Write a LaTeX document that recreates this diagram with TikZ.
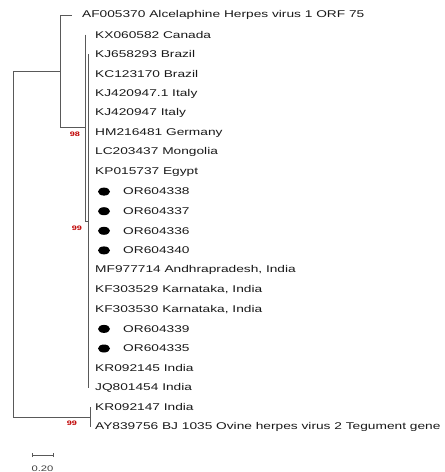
\documentclass[tikz,border=0pt]{standalone}
\usepackage{fontspec}
\setmainfont[FakeStretch=1.4]{Liberation Sans}
\usetikzlibrary{shapes.geometric}
\begin{document}
\begin{tikzpicture}[x=1pt,y=-1pt,
  branch/.style={draw=black!65,line width=0.9pt},
  leaf/.style={anchor=west,inner sep=0pt,font=\fontsize{9.8}{11}\selectfont,text=black!90},
  boot/.style={font=\fontsize{6.5}{7}\selectfont\bfseries,text=red!75!black,inner sep=0pt},
  tipdot/.style={ellipse,fill=black,inner sep=0pt,minimum width=12pt,minimum height=8pt},
  scaletxt/.style={font=\fontsize{8}{9}\selectfont,text=black!75,inner sep=0pt}]
\useasboundingbox (0,0) rectangle (445,472);
% internal nodes
\coordinate (root) at (13,71.4);
\coordinate (nA) at (60,71.4);
\coordinate (nB) at (85,127.8);
\coordinate (nC) at (88,221);
\coordinate (nD) at (90,417.2);
\coordinate (rootD) at (13,417.2);
% vertical extents
\coordinate (Atop) at (60,15);
\coordinate (Abot) at (60,127.8);
\coordinate (Btop) at (85,34.6);
\coordinate (Bbot) at (85,221);
\coordinate (Ctop) at (88,54.2);
\coordinate (Cbot) at (88,387.8);
\coordinate (Dtop) at (90,407.4);
\coordinate (Dbot) at (90,427);
\coordinate (AFend) at (72,15);
% leaves
\node[leaf] (L0) at (82,15) {AF005370 Alcelaphine Herpes virus 1 ORF 75};
\node[leaf] (L1) at (95,34.6) {KX060582 Canada};
\node[leaf] (L2) at (95,54.2) {KJ658293 Brazil};
\node[leaf] (L3) at (95,73.9) {KC123170 Brazil};
\node[leaf] (L4) at (95,93.5) {KJ420947.1 Italy};
\node[leaf] (L5) at (95,113.1) {KJ420947 Italy};
\node[leaf] (L6) at (95,132.7) {HM216481 Germany};
\node[leaf] (L7) at (95,152.3) {LC203437 Mongolia};
\node[leaf] (L8) at (95,172.0) {KP015737 Egypt};
\node[tipdot] (d9) at (104,191.6) {};
\node[leaf] (L9) at (123,191.6) {OR604338};
\node[tipdot] (d10) at (104,211.2) {};
\node[leaf] (L10) at (123,211.2) {OR604337};
\node[tipdot] (d11) at (104,230.8) {};
\node[leaf] (L11) at (123,230.8) {OR604336};
\node[tipdot] (d12) at (104,250.4) {};
\node[leaf] (L12) at (123,250.4) {OR604340};
\node[leaf] (L13) at (95,270.1) {MF977714 Andhrapradesh, India};
\node[leaf] (L14) at (95,289.7) {KF303529 Karnataka, India};
\node[leaf] (L15) at (95,309.3) {KF303530 Karnataka, India};
\node[tipdot] (d16) at (104,328.9) {};
\node[leaf] (L16) at (123,328.9) {OR604339};
\node[tipdot] (d17) at (104,348.5) {};
\node[leaf] (L17) at (123,348.5) {OR604335};
\node[leaf] (L18) at (95,368.2) {KR092145 India};
\node[leaf] (L19) at (95,387.8) {JQ801454 India};
\node[leaf] (L20) at (95,407.4) {KR092147 India};
\node[leaf] (L21) at (95,427) {AY839756 BJ 1035 Ovine herpes virus 2 Tegument gene};
% branches
\draw[branch] (root) -- (rootD);
\draw[branch] (root) -- (nA);
\draw[branch] (rootD) -- (nD);
\draw[branch] (Atop) -- (Abot);
\draw[branch] (Atop) -- (AFend);
\draw[branch] (Abot) -- (nB);
\draw[branch] (Btop) -- (Bbot);
\draw[branch] (Bbot) -- (nC);
\draw[branch] (Ctop) -- (Cbot);
\draw[branch] (Dtop) -- (Dbot);
% bootstrap
\node[boot] (b98) at (75,134) {98};
\node[boot] (b99a) at (77,228) {99};
\node[boot] (b99b) at (72,423) {99};
% scale bar
\coordinate (s1) at (32,455);
\coordinate (s2) at (53,455);
\draw[branch,line width=0.7pt] (s1) -- (s2);
\draw[branch,line width=0.7pt] ([yshift=-2pt]s1) -- ([yshift=2pt]s1);
\draw[branch,line width=0.7pt] ([yshift=-2pt]s2) -- ([yshift=2pt]s2);
\node[scaletxt] (stxt) at (42.5,469) {0.20};
\end{tikzpicture}
\end{document}
